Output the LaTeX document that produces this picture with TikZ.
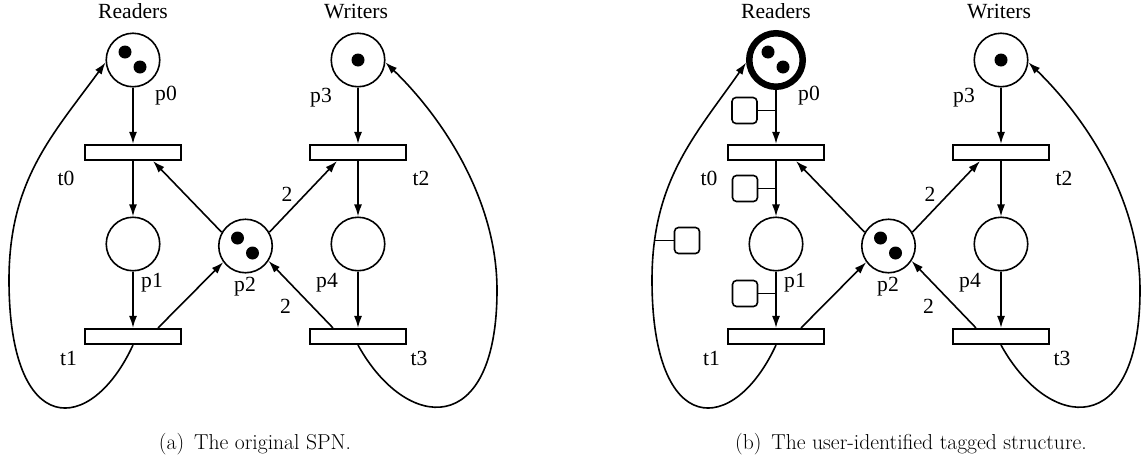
\documentclass[tikz,border=0pt]{standalone}
\usepackage{fontspec}
\newfontfamily\tms{Liberation Serif}
\usetikzlibrary{arrows.meta}
\tikzset{
  place/.style={circle, draw, line width=1.6pt, minimum size=53.5pt, inner sep=0pt},
  trans/.style={rectangle, draw, line width=1.6pt, minimum width=95.5pt, minimum height=15.5pt, inner sep=0pt},
  arc/.style={line width=1.6pt, -{Latex[length=12pt,width=8pt]}},
  lbl/.style={font=\fontsize{21.6}{26}\selectfont\tms, anchor=base, inner sep=0pt},
  captext/.style={font=\fontsize{21.6}{26}\selectfont, anchor=base, inner sep=0pt},
  tagbox/.style={draw, rounded corners=4pt, line width=1.6pt, minimum width=25pt, minimum height=26pt, inner sep=0pt},
  tagline/.style={line width=1.6pt},
  p0thick/.style={line width=6.5pt}
}
\newcommand\spnet[3]{%
\begin{scope}[shift={(#2,0)}]
  \node[place,#3] (p0#1) at (133,60) {};
  \node[place] (p3#1) at (358,60) {};
  \node[place] (p1#1) at (133,244) {};
  \node[place] (p4#1) at (358,244) {};
  \node[place] (p2#1) at (245.5,246) {};
  \node[trans] (t0#1) at (133,152.5) {};
  \node[trans] (t2#1) at (358,152.5) {};
  \node[trans] (t1#1) at (133,336.5) {};
  \node[trans] (t3#1) at (358,336.5) {};
  \fill (p0#1.center) ++(-8,-8) circle (6.5pt);
  \fill (p0#1.center) ++(7,7) circle (6.5pt);
  \fill (p2#1.center) ++(-8,-8) circle (6.5pt);
  \fill (p2#1.center) ++(7,7) circle (6.5pt);
  \fill (p3#1.center) circle (6.5pt);
  \draw[arc] (p0#1) -- (t0#1);
  \draw[arc] (t0#1) -- (p1#1);
  \draw[arc] (p1#1) -- (t1#1);
  \draw[arc] (p3#1) -- (t2#1);
  \draw[arc] (t2#1) -- (p4#1);
  \draw[arc] (p4#1) -- (t3#1);
  \draw[arc] ([xshift=25pt]t1#1.north) -- (p2#1.216);
  \draw[arc] (p2#1.150) -- ([xshift=20pt]t0#1.south);
  \draw[arc] (p2#1.30) -- ([xshift=-21pt]t2#1.south);
  \draw[arc] ([xshift=-25pt]t3#1.north) -- (p2#1.-33);
  \draw[arc] (t1#1.south) .. controls (91,436) and (9,440) .. (9,280)
     .. controls (9,180) and (52.7,134.8) .. (p0#1.185) coordinate[pos=0.15] (lc#1);
  \draw[arc] (t3#1.south) .. controls (406,432) and (497,440) .. (497,290)
     .. controls (497,200) and (443,118) .. (p3#1.-5);
  \node[lbl] (rd#1) at (133,18) {Readers};
  \node[lbl] (wr#1) at (356,18) {Writers};
  \node[lbl] (lp0#1) at (166,100) {p0};
  \node[lbl] (lp3#1) at (321,102) {p3};
  \node[lbl] (lt0#1) at (66,185) {t0};
  \node[lbl] (lt2#1) at (421,185) {t2};
  \node[lbl] (wa#1) at (287,201) {2};
  \node[lbl] (lp1#1) at (152,287) {p1};
  \node[lbl] (lp2#1) at (245,291) {p2};
  \node[lbl] (lp4#1) at (327,287) {p4};
  \node[lbl] (wb#1) at (285.5,313) {2};
  \node[lbl] (lt1#1) at (68.5,365) {t1};
  \node[lbl] (lt3#1) at (419,365) {t3};
\end{scope}}
\begin{document}
\begin{tikzpicture}[x=1pt,y=-1pt]
  \useasboundingbox (0,0) rectangle (1146,461);
  \spnet{a}{0}{}
  \spnet{b}{643}{p0thick}
  \node[tagbox] (g1) at (744.5,110.5) {};
  \node[tagbox] (g2) at (745,188.5) {};
  \node[tagbox] (g3) at (687,240.5) {};
  \node[tagbox] (g4) at (745,293.5) {};
  \draw[tagline] (g1.east) -- (g1.east -| p0b.center);
  \draw[tagline] (g2.east) -- (g2.east -| p1b.center);
  \draw[tagline] (g4.east) -- (g4.east -| p1b.center);
  \draw[tagline] (g3.west) -- (g3.west -| lcb);
  \node[captext] (capa) at (255,449) {(a)\hspace{0.46em}The original SPN.};
  \node[captext] (capb) at (911,449) {(b)\hspace{0.46em}The user-identified tagged structure.};
\end{tikzpicture}
\end{document}
